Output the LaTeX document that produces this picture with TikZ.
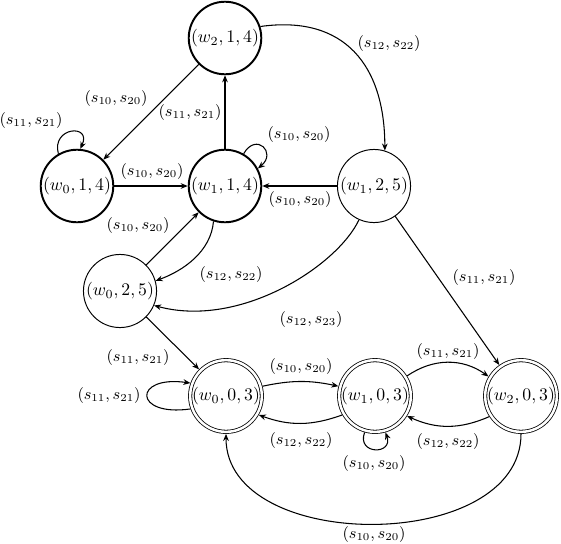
\documentclass[tikz,border=0pt]{standalone}
\usetikzlibrary{arrows.meta}
\begin{document}
\begin{tikzpicture}[x=0.565pt,y=0.565pt,
  every node/.style={font=\fontsize{10.3}{12}\selectfont},
  thickst/.style={circle,draw,line width=1.1pt,minimum size=41pt,inner sep=0pt,outer sep=0.55pt},
  thinst/.style={circle,draw,line width=0.55pt,minimum size=41.3pt,inner sep=0pt,outer sep=0.28pt},
  accst/.style={circle,draw,line width=0.45pt,double,double distance=1.4pt,minimum size=40.5pt,inner sep=0pt,outer sep=1.15pt},
  arr/.style={line width=0.6pt,-{Stealth[length=4pt,width=3.2pt]}},
  lbl/.style={font=\fontsize{8.6}{10}\selectfont,inner sep=0pt}]
\useasboundingbox (0,0) rectangle (561,-543);
% states
\node[thickst] (a) at (225,-38) {$(w_2,1,4)$};
\node[thickst] (b) at (77,-186) {$(w_0,1,4)$};
\node[thickst] (c) at (225,-186) {$(w_1,1,4)$};
\node[thinst] (d) at (374,-186) {$(w_1,2,5)$};
\node[thinst] (e) at (120,-291) {$(w_0,2,5)$};
\node[accst] (f) at (226,-396) {$(w_0,0,3)$};
\node[accst] (g) at (375,-396) {$(w_1,0,3)$};
\node[accst] (h) at (521,-396) {$(w_2,0,3)$};
% edges
\draw[arr] (a) -- (b);
\draw[arr] (c) -- (a);
\draw[arr] (b.120) .. controls +(105:28) and +(65:28) .. (b.85);
\draw[arr] (c.60) .. controls +(60:25) and +(40:25) .. (c.28);
\draw[arr] (b) -- (c);
\draw[arr] (d) -- (c);
\draw[arr] (a.18) .. controls +(8:85) and +(90:85) .. (d.73);
\draw[arr] (c.252) .. controls +(-95:30) and +(20:30) .. (e.16);
\draw[arr] (e) -- (c);
\draw[arr] (d.246) .. controls +(245:50) and +(-15:90) .. (e.-23);
\draw[arr] (d) -- (h);
\draw[arr] (e) -- (f);
\draw[arr] (f.200) .. controls +(188:58) and +(172:58) .. (f.160);
\draw[arr] (f.15) to[bend left=12] (g.165);
\draw[arr] (g.-150) to[bend left=20] (f.-30);
\draw[arr] (g.32) to[bend left=35] (h.149);
\draw[arr] (h.-147) to[bend left=24] (g.-32);
\draw[arr] (g.254) .. controls +(250:24) and +(290:24) .. (g.286);
\draw[arr] (h.-90) .. controls +(-90:120) and +(-90:120) .. (f.-90);
% labels
\node[lbl] (l1) at (116,-99) {$(s_{10},s_{20})$};
\node[lbl] (l2) at (190,-113) {$(s_{11},s_{21})$};
\node[lbl] (l3) at (31,-121) {$(s_{11},s_{21})$};
\node[lbl] (l4) at (299,-135) {$(s_{10},s_{20})$};
\node[lbl] (l5) at (152,-172) {$(s_{10},s_{20})$};
\node[lbl] (l6) at (300,-200) {$(s_{10},s_{20})$};
\node[lbl] (l7) at (389,-44) {$(s_{12},s_{22})$};
\node[lbl] (l8) at (231,-275) {$(s_{12},s_{22})$};
\node[lbl] (l9) at (138,-226) {$(s_{10},s_{20})$};
\node[lbl] (l10) at (311,-320) {$(s_{12},s_{23})$};
\node[lbl] (l11) at (484,-278) {$(s_{11},s_{21})$};
\node[lbl] (l12) at (138,-358) {$(s_{11},s_{21})$};
\node[lbl] (l13) at (109,-396) {$(s_{11},s_{21})$};
\node[lbl] (l14) at (301,-367) {$(s_{10},s_{20})$};
\node[lbl] (l15) at (301,-441) {$(s_{12},s_{22})$};
\node[lbl] (l16) at (448,-352) {$(s_{11},s_{21})$};
\node[lbl] (l17) at (448,-442) {$(s_{12},s_{22})$};
\node[lbl] (l18) at (374,-464) {$(s_{10},s_{20})$};
\node[lbl] (l19) at (374,-535) {$(s_{10},s_{20})$};
\end{tikzpicture}
\end{document}
